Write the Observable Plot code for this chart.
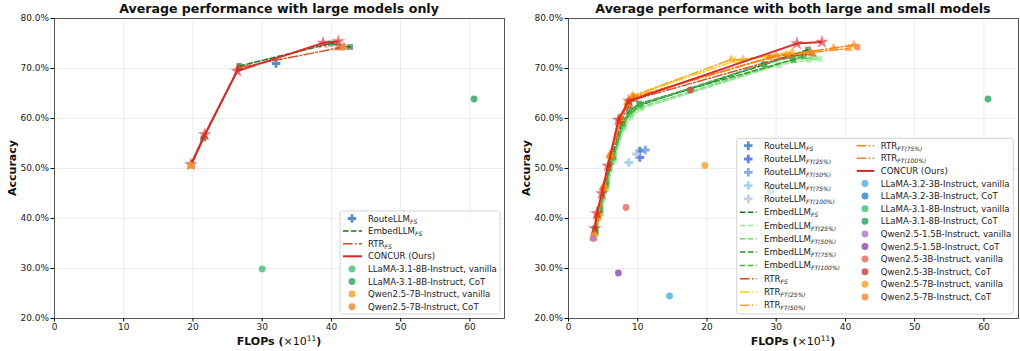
<!DOCTYPE html>
<html><head><meta charset="utf-8">
<script src="https://cdn.jsdelivr.net/npm/d3@7"></script>
<script src="https://cdn.jsdelivr.net/npm/@observablehq/plot@0.6"></script>
<style>
body{margin:0;background:#fff;}
#wrap{display:flex;width:1020px;height:351px;overflow:hidden;}
svg text{font-family:"DejaVu Sans",sans-serif;}
</style></head><body><div id="wrap"></div>
<script>
// ---------- ticks ----------
const xTicks=[0,10,20,30,40,50,60];
const yTicks=[20,30,40,50,60,70,80];
const titles=["Average performance with large models only","Average performance with both large and small models"];

// ---------- LEFT panel: large models only ----------
const L_routeFS_x=[32.0];                       const L_routeFS_y=[71.0];
const L_embedFS_x=[19.7,21.5,26.7,39.9,42.7];   const L_embedFS_y=[50.6,56.0,70.5,75.0,74.3];
const L_rtrFS_x=[19.8,21.6,26.6,41.0,41.8];     const L_rtrFS_y=[50.7,56.3,70.2,74.1,74.3];
const L_concur_x=[19.7,21.7,26.4,38.8,41.0];    const L_concur_y=[50.8,56.8,69.5,75.1,75.4];
const L_models=["LLaMA-3.1-8B-Instruct, vanilla","LLaMA-3.1-8B-Instruct, CoT","Qwen2.5-7B-Instruct, vanilla","Qwen2.5-7B-Instruct, CoT"];
const L_models_x=[30.0,60.6,19.7,41.7];
const L_models_y=[29.9,63.9,50.6,74.3];

// ---------- RIGHT panel: large and small models ----------
const R_route_names=["FS","FT(25%)","FT(50%)","FT(75%)","FT(100%)"];
const R_route_x=[10.3,10.3,11.1,8.7,9.8];
const R_route_y=[53.5,52.2,53.7,51.2,52.9];

const R_embedFS_x=[3.9,4.5,5.4,6.4,7.8,8.8,10.4,28.3,34.6];
const R_embedFS_y=[37.3,41.0,46.5,52.0,58.5,60.8,62.7,70.8,73.8];
const R_embed25_x=[4.0,4.7,5.6,6.6,8.0,9.0,10.5,30.4,34.7,36.3];
const R_embed25_y=[37.0,41.0,46.0,51.5,58.0,60.2,62.0,70.7,71.7,71.9];
const R_embed50_x=[3.9,4.6,5.5,6.5,7.9,9.0,10.4,32.3,35.5];
const R_embed50_y=[37.5,41.5,47.0,52.0,58.5,61.0,62.3,71.7,72.2];
const R_embed75_x=[3.8,4.5,5.4,6.3,7.7,8.8,10.2,32.5,34.0];
const R_embed75_y=[38.0,42.0,47.0,52.5,59.0,61.5,63.0,71.8,72.5];
const R_embed100_x=[3.9,4.6,5.5,6.5,7.9,9.2,10.3,28.2,33.5];
const R_embed100_y=[37.8,41.8,47.3,52.3,59.0,61.8,62.8,70.9,72.7];

const R_rtrFS_x=[3.7,4.3,5.2,6.2,7.6,8.7,9.5,31.5,35.2];
const R_rtrFS_y=[37.0,41.0,46.5,52.5,59.5,62.5,63.8,72.4,72.9];
const R_rtr25_x=[3.7,4.3,5.1,6.1,7.5,8.6,9.3,24.0,31.5];
const R_rtr25_y=[36.8,41.0,46.5,52.8,60.0,63.0,64.5,71.5,72.9];
const R_rtr50_x=[3.6,4.2,5.1,6.0,7.4,8.5,9.2,23.5,25.2,32.3];
const R_rtr50_y=[36.5,40.5,46.5,52.5,60.0,63.3,64.5,71.8,71.8,73.3];
const R_rtr75_x=[3.6,4.2,5.0,6.0,7.5,8.6,9.4,30.0,35.0,40.5];
const R_rtr75_y=[36.0,40.0,46.0,52.5,60.0,63.0,64.2,72.5,73.2,74.0];
const R_rtr100_x=[3.6,4.2,5.0,6.0,7.5,8.6,9.4,29.0,38.3,41.2];
const R_rtr100_y=[36.2,40.5,46.2,52.8,60.2,63.2,64.3,72.2,74.1,74.7];

const R_concur_x=[3.8,4.1,4.8,5.7,7.2,8.7,33.0,36.6];
const R_concur_y=[38.0,41.0,45.0,50.5,59.7,63.5,75.0,75.3];

const R_models=["LLaMA-3.2-3B-Instruct, vanilla","LLaMA-3.2-3B-Instruct, CoT","LLaMA-3.1-8B-Instruct, vanilla","LLaMA-3.1-8B-Instruct, CoT","Qwen2.5-1.5B-Instruct, vanilla","Qwen2.5-1.5B-Instruct, CoT","Qwen2.5-3B-Instruct, vanilla","Qwen2.5-3B-Instruct, CoT","Qwen2.5-7B-Instruct, vanilla","Qwen2.5-7B-Instruct, CoT"];
const R_models_x=[14.6,29.2,30.0,60.6,3.6,7.2,8.3,17.6,19.7,41.7];
const R_models_y=[24.5,45.5,29.9,63.9,36.0,29.1,42.2,65.7,50.6,74.3];

// ---------- styles ----------
const C={
  route:["#3a7dbf","#4a6fe0","#6d9be8","#8fd0ef","#b8c8e0"],
  embed:["#17701a","#98e898","#6fdc6f","#2a962a","#45b54a"],
  rtr:["#d24a1e","#f2cf1d","#f6a313","#fb8c0a","#ff7f0e"],
  concur:"#d62728",
  model:{"LLaMA-3.2-3B-Instruct, vanilla":"#5dade2","LLaMA-3.2-3B-Instruct, CoT":"#3b88c4",
    "LLaMA-3.1-8B-Instruct, vanilla":"#52be80","LLaMA-3.1-8B-Instruct, CoT":"#35a866",
    "Qwen2.5-1.5B-Instruct, vanilla":"#b57fcc","Qwen2.5-1.5B-Instruct, CoT":"#9650b5",
    "Qwen2.5-3B-Instruct, vanilla":"#ec7063","Qwen2.5-3B-Instruct, CoT":"#cb4b3c",
    "Qwen2.5-7B-Instruct, vanilla":"#f5a733","Qwen2.5-7B-Instruct, CoT":"#ec8e43"}
};
const DASH="5.5,2.4", DASHDOT="9.6,2.4,1.5,2.4";

function zip(xs,ys,extra){return xs.map((x,i)=>({x,y:ys[i],...(extra?extra(i):{})}));}

function panel(cfg){
  const marks=[
    Plot.gridX(xTicks,{stroke:"#b0b0b0",strokeOpacity:0.3,strokeWidth:0.8}),
    Plot.gridY(yTicks,{stroke:"#b0b0b0",strokeOpacity:0.3,strokeWidth:0.8})
  ];
  for(const p of cfg.points){
    marks.push(Plot.dot(p.data,{x:"x",y:"y",symbol:"cross",fill:p.color,r:3.6,fillOpacity:0.85}));
  }
  for(const s of cfg.lines){
    marks.push(Plot.line(s.data,{x:"x",y:"y",stroke:s.color,strokeWidth:s.w||1.5,strokeDasharray:s.dash,strokeOpacity:0.95}));
    marks.push(Plot.dot(s.data,{x:"x",y:"y",symbol:s.symbol,fill:s.color,r:s.r||3.3,fillOpacity:0.6}));
  }
  marks.push(Plot.dot(cfg.models,{x:"x",y:"y",fill:"color",r:3.4,fillOpacity:0.85}));
  marks.push(Plot.frame({stroke:"#444",strokeWidth:0.9}));
  marks.push(Plot.axisX(xTicks,{tickSize:3.5,tickPadding:2,label:null,fontSize:9,fill:"#222"}));
  marks.push(Plot.axisY(yTicks,{tickSize:3.5,tickPadding:2,label:null,fontSize:9,fill:"#222",tickFormat:d=>d.toFixed(1)+"%"}));
  const svg=Plot.plot({
    width:510,height:351,marginLeft:cfg.ml,marginRight:cfg.mr,marginTop:18,marginBottom:33,
    x:{domain:[0,65]},y:{domain:[20,80]},
    color:{type:"identity"},
    marks
  });
  const s=d3.select(svg);
  const cx=cfg.ml+(510-cfg.ml-cfg.mr)/2;
  s.append("text").attr("x",cx).attr("y",13.2).attr("text-anchor","middle").attr("font-size",12.6).attr("font-weight","bold").attr("fill","#111").text(cfg.title);
  const xl=s.append("text").attr("x",cx).attr("y",345).attr("text-anchor","middle").attr("font-size",11).attr("fill","#111");
  xl.append("tspan").attr("font-weight","bold").text("FLOPs (");
  xl.append("tspan").text("×10");
  xl.append("tspan").attr("font-size",7.5).attr("dy",-4.5).text("11");
  xl.append("tspan").attr("font-weight","bold").attr("dy",4.5).text(")");
  s.append("text").attr("transform",`translate(${cfg.ml-38},${168}) rotate(-90)`).attr("text-anchor","middle").attr("font-size",11).attr("font-weight","bold").attr("fill","#111").text("Accuracy");
  legend(s,cfg.legend);
  return svg;
}

function legend(s,L){
  const g=s.append("g").attr("text-anchor","start");
  g.append("rect").attr("x",L.x).attr("y",L.y).attr("width",L.w).attr("height",L.h).attr("rx",2.5)
    .attr("fill","#fff").attr("fill-opacity",0.8).attr("stroke","#cfcfcf").attr("stroke-width",0.9);
  for(const c of L.cols){
    c.items.forEach((it,i)=>{
      const cy=c.y0+i*c.dy;
      if(it.kind==="line"){
        g.append("line").attr("x1",c.lx0).attr("x2",c.lx1).attr("y1",cy).attr("y2",cy)
          .attr("stroke",it.color).attr("stroke-width",it.w||1.5).attr("stroke-dasharray",it.dash||null);
      } else {
        const sym=it.kind==="cross"?d3.symbolCross:d3.symbolCircle;
        g.append("path").attr("d",d3.symbol(sym,it.kind==="cross"?40:38)()).attr("transform",`translate(${c.mx},${cy})`)
          .attr("fill",it.color).attr("fill-opacity",0.85);
      }
      const t=g.append("text").attr("x",c.tx).attr("y",cy+3).attr("text-anchor","start").attr("font-size",8.6).attr("fill","#222");
      t.append("tspan").text(it.label);
      if(it.sub) t.append("tspan").attr("font-size",6).attr("font-style","italic").attr("dy",2).text(it.sub);
    });
  }
}

// ---------- build left ----------
const leftCfg={
  title:titles[0],ml:54,mr:6,
  points:[{data:zip(L_routeFS_x,L_routeFS_y),color:C.route[0]}],
  lines:[
    {data:zip(L_embedFS_x,L_embedFS_y),color:C.embed[0],dash:DASH,symbol:"square"},
    {data:zip(L_rtrFS_x,L_rtrFS_y),color:C.rtr[0],dash:DASHDOT,symbol:"triangle"},
    {data:zip(L_concur_x,L_concur_y),color:C.concur,w:2,symbol:"star",r:4.3}
  ],
  models:zip(L_models_x,L_models_y,i=>({color:C.model[L_models[i]]})),
  legend:{x:340,y:211,w:160,h:103,cols:[{y0:218.5,dy:12.6,mx:352,tx:368,lx0:343,lx1:362,items:[
    {kind:"cross",color:C.route[0],label:"RouteLLM",sub:"FS"},
    {kind:"line",color:C.embed[0],dash:DASH,label:"EmbedLLM",sub:"FS"},
    {kind:"line",color:C.rtr[0],dash:DASHDOT,label:"RTR",sub:"FS"},
    {kind:"line",color:C.concur,w:2,label:"CONCUR (Ours)"},
    ...L_models.map(m=>({kind:"circle",color:C.model[m],label:m}))
  ]}]}
};

// ---------- build right ----------
const embedR=[[R_embedFS_x,R_embedFS_y],[R_embed25_x,R_embed25_y],[R_embed50_x,R_embed50_y],[R_embed75_x,R_embed75_y],[R_embed100_x,R_embed100_y]];
const rtrR=[[R_rtrFS_x,R_rtrFS_y],[R_rtr25_x,R_rtr25_y],[R_rtr50_x,R_rtr50_y],[R_rtr75_x,R_rtr75_y],[R_rtr100_x,R_rtr100_y]];
const rightCfg={
  title:titles[1],ml:58,mr:2,
  points:R_route_x.map((x,i)=>({data:[{x,y:R_route_y[i]}],color:C.route[i]})),
  lines:[
    ...embedR.map((d,i)=>({data:zip(d[0],d[1]),color:C.embed[i],dash:DASH,symbol:"square"})),
    ...rtrR.map((d,i)=>({data:zip(d[0],d[1]),color:C.rtr[i],dash:DASHDOT,symbol:"triangle"})),
    {data:zip(R_concur_x,R_concur_y),color:C.concur,w:2,symbol:"star",r:4.3}
  ],
  models:zip(R_models_x,R_models_y,i=>({color:C.model[R_models[i]]})),
  legend:{x:226.7,y:138.3,w:276.6,h:175.7,cols:[
    {y0:145.7,dy:13.3,mx:238.3,tx:254,lx0:230,lx1:246.7,items:[
      ...R_route_names.map((n,i)=>({kind:"cross",color:C.route[i],label:"RouteLLM",sub:n})),
      ...R_route_names.map((n,i)=>({kind:"line",color:C.embed[i],dash:DASH,label:"EmbedLLM",sub:n})),
      ...R_route_names.slice(0,3).map((n,i)=>({kind:"line",color:C.rtr[i],dash:DASHDOT,label:"RTR",sub:n}))
    ]},
    {y0:145.7,dy:12.6,mx:355,tx:370.7,lx0:346.7,lx1:364.3,items:[
      ...R_route_names.slice(3).map((n,i)=>({kind:"line",color:C.rtr[i+3],dash:DASHDOT,label:"RTR",sub:n})),
      {kind:"line",color:C.concur,w:2,label:"CONCUR (Ours)"},
      ...R_models.map(m=>({kind:"circle",color:C.model[m],label:m}))
    ]}
  ]}
};

const wrap=document.getElementById("wrap");
wrap.append(panel(leftCfg));
wrap.append(panel(rightCfg));
</script></body></html>
